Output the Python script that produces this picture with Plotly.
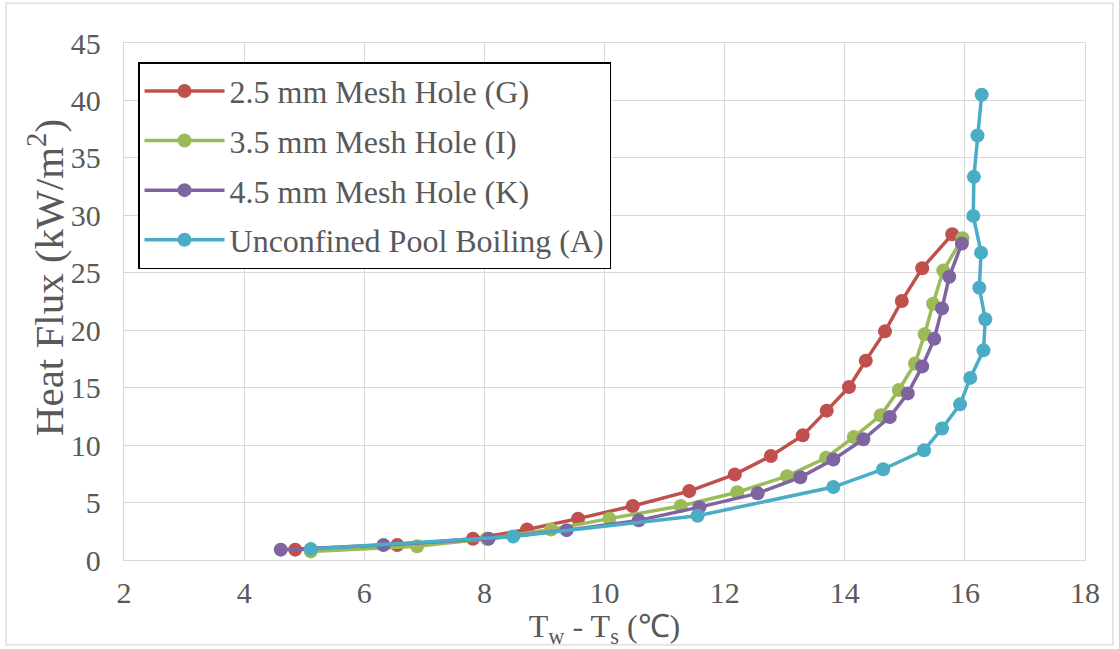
import plotly.graph_objects as go

names = ["2.5 mm Mesh Hole (G)", "3.5 mm Mesh Hole (I)", "4.5 mm Mesh Hole (K)", "Unconfined Pool Boiling (A)"]
colors = ["#C0504D", "#9BBB59", "#8064A2", "#4BACC6"]

g_x = [4.85, 6.55, 7.81, 8.71, 9.56, 10.47, 11.41, 12.17, 12.77, 13.30, 13.70, 14.07, 14.35, 14.67, 14.95, 15.29, 15.79]
g_y = [0.9, 1.3, 1.85, 2.65, 3.6, 4.7, 6.0, 7.45, 9.05, 10.85, 13.0, 15.05, 17.35, 19.9, 22.55, 25.4, 28.35]

i_x = [5.11, 6.88, 8.04, 9.11, 10.08, 11.27, 12.21, 13.04, 13.69, 14.15, 14.60, 14.90, 15.17, 15.33, 15.47, 15.64, 15.96]
i_y = [0.75, 1.2, 1.85, 2.65, 3.6, 4.7, 5.9, 7.3, 8.9, 10.7, 12.6, 14.8, 17.1, 19.65, 22.3, 25.2, 28.0]

k_x = [4.61, 6.32, 8.07, 9.37, 10.57, 11.58, 12.55, 13.26, 13.81, 14.31, 14.75, 15.05, 15.29, 15.49, 15.62, 15.74, 15.95]
k_y = [0.9, 1.3, 1.85, 2.6, 3.45, 4.6, 5.8, 7.2, 8.75, 10.5, 12.45, 14.5, 16.85, 19.25, 21.9, 24.65, 27.55]

a_x = [5.11, 8.48, 11.55, 13.81, 14.64, 15.32, 15.62, 15.92, 16.09, 16.31, 16.34, 16.24, 16.27, 16.14, 16.15, 16.21, 16.28]
a_y = [0.95, 2.05, 3.85, 6.35, 7.9, 9.55, 11.45, 13.55, 15.85, 18.25, 20.95, 23.7, 26.75, 29.95, 33.35, 36.95, 40.5]

series = [(g_x, g_y), (i_x, i_y), (k_x, k_y), (a_x, a_y)]

x_title = "T<sub>w</sub> - T<sub>s</sub> (℃)"
y_title = "Heat Flux (kW/m<sup>2</sup>)"

FONT = "Liberation Serif"
TXT = "#595959"
GRID = "#D9D9D9"

fig = go.Figure()
for idx, ((xs, ys), name, col) in enumerate(zip(series, names, colors)):
    fig.add_trace(go.Scatter(
        x=xs, y=ys, name=name, mode="lines+markers",
        line=dict(color=col, width=3.5),
        marker=dict(color=col, size=14),
        legendgroup=f"g{idx}",
    ))

fig.update_layout(
    width=1119, height=649,
    paper_bgcolor="white", plot_bgcolor="white",
    margin=dict(l=124, r=34, t=43, b=89),
    font=dict(family=FONT, color=TXT, size=30),
    showlegend=True,
    legend=dict(
        x=0.0146, y=0.963, xanchor="left", yanchor="top",
        bordercolor="black", borderwidth=1.5, bgcolor="white",
        font=dict(family=FONT, size=32, color=TXT),
        tracegroupgap=5, itemwidth=80,
    ),
    xaxis=dict(
        range=[2, 18], dtick=2, tick0=2, automargin=False,
        showgrid=True, gridcolor=GRID, gridwidth=1.3,
        zeroline=False, showline=True, linecolor=GRID, linewidth=1.3, mirror=True,
        ticks="outside", ticklen=6, tickcolor="rgba(0,0,0,0)",
        tickfont=dict(size=30, family=FONT, color=TXT),
        title=dict(text=x_title, font=dict(size=32, family=FONT, color=TXT), standoff=2),
    ),
    yaxis=dict(
        range=[0, 45], dtick=5, automargin=False,
        showgrid=True, gridcolor=GRID, gridwidth=1.3,
        zeroline=False, showline=True, linecolor=GRID, linewidth=1.3, mirror=True,
        ticks="outside", ticklen=16, tickcolor="rgba(0,0,0,0)",
        tickfont=dict(size=30, family=FONT, color=TXT),
    ),
    annotations=[dict(text=y_title, xref="paper", yref="paper", x=-0.0812, y=0.547,
                      xanchor="center", yanchor="middle", textangle=-90, showarrow=False,
                      font=dict(size=41, family=FONT, color=TXT))],
    shapes=[dict(type="rect", xref="paper", yref="paper",
                 x0=-0.1228, x1=1.029, y0=-0.164, y1=1.077,
                 line=dict(color="#D9D9D9", width=1.3), fillcolor="rgba(0,0,0,0)", layer="below")],
)

fig.write_html("out.html", config={"displayModeBar": False},
               post_script="document.body.style.margin='0';")
